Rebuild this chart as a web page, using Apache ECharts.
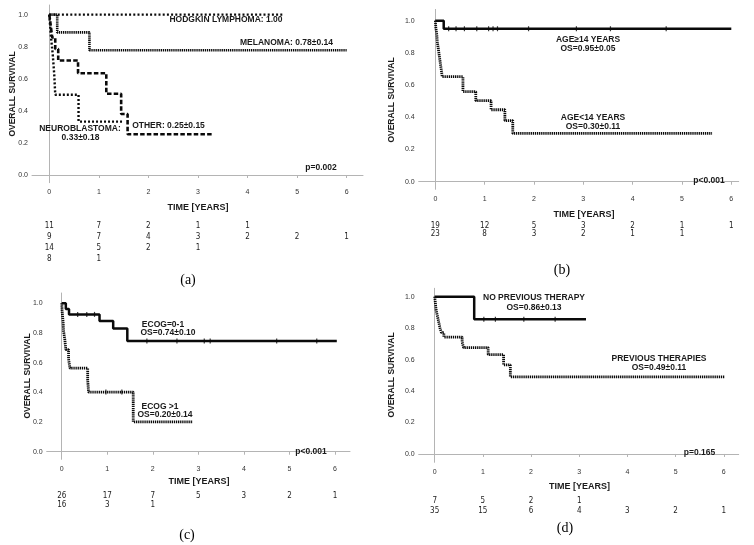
<!DOCTYPE html>
<html><head><meta charset="utf-8">
<script src="https://cdn.jsdelivr.net/npm/echarts@6/dist/echarts.min.js"></script>
<style>html,body{margin:0;padding:0;background:#fff}#c{width:754px;height:545px}</style>
</head><body><div id="c"></div>
<script>
// ---------- DATA ----------
const xTicks = [0, 1, 2, 3, 4, 5, 6];
const yTicks = [0, 0.2, 0.4, 0.6, 0.8, 1.0];

// Panel (a)
const aHodgkinT = [0, 4.71];
const aHodgkinS = [1, 1];
const aMelanomaT = [0, 0.16, 0.81, 6.0];
const aMelanomaS = [1, 0.889, 0.778, 0.778];
const aOtherT = [0, 0.03, 0.06, 0.12, 0.18, 0.58, 1.15, 1.45, 1.58, 3.28];
const aOtherS = [1, 0.929, 0.857, 0.786, 0.714, 0.634, 0.507, 0.38, 0.254, 0.254];
const aNeuroT = [0, 0.03, 0.07, 0.1, 0.12, 0.59, 1.5];
const aNeuroS = [1, 0.875, 0.75, 0.625, 0.5, 0.333, 0.333];
const aRisk = [[11, 7, 2, 1, 1], [9, 7, 4, 3, 2, 2, 1], [14, 5, 2, 1], [8, 1]];

// Panel (b)
const bOldT = [0, 0.17, 6.0];
const bOldS = [1, 0.95, 0.95];
const bOldCensor = [0.27, 0.42, 0.59, 0.84, 1.08, 1.17, 1.26, 1.89, 2.86, 3.55, 4.68];
const bYoungT = [0, 0.01, 0.03, 0.04, 0.06, 0.08, 0.1, 0.12, 0.14, 0.56, 0.82, 1.13, 1.41, 1.57, 5.61];
const bYoungS = [1, 0.957, 0.913, 0.870, 0.826, 0.783, 0.739, 0.696, 0.652, 0.559, 0.503, 0.447, 0.38, 0.30, 0.30];
const bRisk = [[19, 12, 5, 3, 2, 1, 1], [23, 8, 3, 2, 1, 1]];

// Panel (c)
const cLowT = [0, 0.09, 0.16, 0.83, 1.13, 1.44, 6.04];
const cLowS = [1, 0.962, 0.925, 0.88, 0.83, 0.745, 0.745];
const cLowCensor = [0.35, 0.55, 0.72, 1.87, 2.53, 3.13, 3.26, 4.72, 5.6];
const cHighT = [0, 0.01, 0.03, 0.04, 0.07, 0.09, 0.15, 0.18, 0.57, 0.59, 1.57, 2.88];
const cHighS = [1, 0.938, 0.875, 0.813, 0.75, 0.688, 0.625, 0.563, 0.482, 0.402, 0.201, 0.201];
const cHighCensor = [0.97, 1.32];
const cRisk = [[26, 17, 7, 5, 3, 2, 1], [16, 3, 1]];

// Panel (d)
const dNoPrevT = [0, 0.82, 3.14];
const dNoPrevS = [1, 0.857, 0.857];
const dNoPrevCensor = [1.02, 1.26, 1.85, 2.5];
const dPrevT = [0, 0.01, 0.02, 0.03, 0.05, 0.07, 0.09, 0.11, 0.14, 0.19, 0.57, 0.6, 1.11, 1.43, 1.57, 6.01];
const dPrevS = [1, 0.971, 0.943, 0.914, 0.886, 0.857, 0.829, 0.800, 0.771, 0.743, 0.71, 0.676, 0.632, 0.566, 0.49, 0.49];
const dRisk = [[7, 5, 2, 1], [35, 15, 6, 4, 3, 2, 1]];

// ---------- LAYOUT ----------
const panels = [
  {left: 32, top: 5, width: 331, height: 177.7, xMin: -0.349, xMax: 6.33, yMin: -0.048, yMax: 1.06,
   risk: aRisk, riskY: [226, 237.3, 248.3, 259.3], ytitle: [13, 94], xtitle: [198, 208], label: ['(a)', 188, 280]},
  {left: 418.7, top: 9.4, width: 320, height: 179.9, xMin: -0.337, xMax: 6.15, yMin: -0.047, yMax: 1.07,
   risk: bRisk, riskY: [225.7, 233.5], ytitle: [392, 100], xtitle: [584, 215], label: ['(b)', 562, 270]},
  {left: 46.7, top: 293, width: 303.3, height: 166.3, xMin: -0.33, xMax: 6.33, yMin: -0.051, yMax: 1.069,
   risk: cRisk, riskY: [496, 505.3], ytitle: [28, 376], xtitle: [199, 482], label: ['(c)', 187, 535]},
  {left: 418.7, top: 288.3, width: 320, height: 174, xMin: -0.332, xMax: 6.31, yMin: -0.053, yMax: 1.053,
   risk: dRisk, riskY: [500.7, 510.7], ytitle: [392, 375], xtitle: [579.5, 486.7], label: ['(d)', 565, 528]}
];

const INK = '#0a0a0a';
const AX = '#b4b4b4';
const BOLD = 'Liberation Sans, Arial, sans-serif';
const HATCH = [1.3, 0.8];

function pairs(T, S) { return T.map((t, i) => [t, S[i]]); }
function survAt(T, S, t) { let v = S[0]; for (let i = 0; i < T.length; i++) { if (T[i] <= t) v = S[i]; } return v; }

function km(grid, T, S, width, dash) {
  return {type: 'line', xAxisIndex: grid, yAxisIndex: grid, step: 'end', symbol: 'none', silent: true,
    data: pairs(T, S), lineStyle: {color: INK, width: width, type: dash, cap: 'butt'}, z: 3};
}
function censor(grid, T, S, C) {
  return {type: 'scatter', xAxisIndex: grid, yAxisIndex: grid, symbol: 'rect', symbolSize: [1.2, 5], silent: true,
    itemStyle: {color: INK}, data: C.map(t => [t, survAt(T, S, t)]), z: 4};
}

const grids = [], xAxes = [], yAxes = [];
panels.forEach((p, i) => {
  grids.push({left: p.left, top: p.top, width: p.width, height: p.height});
  xAxes.push({type: 'value', gridIndex: i, min: p.xMin, max: p.xMax,
    axisLine: {show: true, lineStyle: {color: AX, width: 1}},
    axisTick: {show: true, length: 3, lineStyle: {color: AX}, customValues: xTicks},
    axisLabel: {customValues: xTicks, fontSize: 7, color: '#333', margin: 6, fontFamily: BOLD},
    splitLine: {show: false}});
  yAxes.push({type: 'value', gridIndex: i, min: p.yMin, max: p.yMax,
    axisLine: {show: true, lineStyle: {color: AX, width: 1}},
    axisTick: {show: false, customValues: yTicks},
    axisLabel: {customValues: yTicks, fontSize: 7, color: '#333', margin: 4, fontFamily: BOLD,
      formatter: v => v.toFixed(1)},
    splitLine: {show: false}});
});

const series = [
  km(0, aMelanomaT, aMelanomaS, 2.6, HATCH),
  km(0, aHodgkinT, aHodgkinS, 2.2, [2, 2.2]),
  km(0, aOtherT, aOtherS, 2.6, [4.5, 2.2]),
  km(0, aNeuroT, aNeuroS, 2.4, [2, 2]),
  km(1, bYoungT, bYoungS, 2.8, HATCH),
  km(1, bOldT, bOldS, 2.5, 'solid'),
  censor(1, bOldT, bOldS, bOldCensor),
  km(2, cHighT, cHighS, 2.8, HATCH),
  km(2, cLowT, cLowS, 2.5, 'solid'),
  censor(2, cLowT, cLowS, cLowCensor),
  censor(2, cHighT, cHighS, cHighCensor),
  km(3, dPrevT, dPrevS, 2.8, HATCH),
  km(3, dNoPrevT, dNoPrevS, 2.5, 'solid'),
  censor(3, dNoPrevT, dNoPrevS, dNoPrevCensor)
];

const chart = echarts.init(document.getElementById('c'), null, {renderer: 'canvas'});
chart.setOption({animation: false, backgroundColor: '#fff', grid: grids, xAxis: xAxes, yAxis: yAxes, series: series});

// ---------- TEXT ----------
function txt(s, x, y, opts) {
  opts = opts || {};
  return {type: 'text', x: x, y: y, rotation: opts.rot || 0, silent: true, z: 10,
    style: {text: s, fill: opts.color || '#1a1a1a', font: opts.font || ('bold 8.5px ' + BOLD),
      align: opts.align || 'center', verticalAlign: 'middle'}};
}
const annotations = [
  ['HODGKIN LYMPHOMA: 1.00', 226, 20], ['MELANOMA: 0.78±0.14', 286.5, 43],
  ['OTHER: 0.25±0.15', 168.5, 126], ['NEUROBLASTOMA:', 80, 128.5], ['0.33±0.18', 80.5, 137.5],
  ['p=0.002', 321, 168],
  ['AGE≥14 YEARS', 588, 40], ['OS=0.95±0.05', 588, 48.5], ['AGE<14 YEARS', 593, 118], ['OS=0.30±0.11', 593, 127],
  ['p<0.001', 709, 181],
  ['ECOG=0-1', 163, 325], ['OS=0.74±0.10', 168, 332.5], ['ECOG >1', 160, 407], ['OS=0.20±0.14', 165, 414.5],
  ['p<0.001', 311, 452],
  ['NO PREVIOUS THERAPY', 534, 298], ['OS=0.86±0.13', 534, 307.7], ['PREVIOUS THERAPIES', 659, 359],
  ['OS=0.49±0.11', 659, 367.5], ['p=0.165', 699.5, 453]
];
const graphics = annotations.map(a => txt(a[0], a[1], a[2]));
panels.forEach((p, gi) => {
  graphics.push(txt('OVERALL SURVIVAL', p.ytitle[0], p.ytitle[1], {rot: Math.PI / 2, font: 'bold 8.5px ' + BOLD}));
  graphics.push(txt('TIME [YEARS]', p.xtitle[0], p.xtitle[1], {font: 'bold 9px ' + BOLD}));
  graphics.push(txt(p.label[0], p.label[1], p.label[2], {font: '14px Liberation Serif, DejaVu Serif, serif', color: '#000'}));
  p.risk.forEach((row, r) => {
    row.forEach((n, k) => {
      const px = chart.convertToPixel({gridIndex: gi}, [xTicks[k], 0])[0];
      graphics.push(txt(String(n), px, p.riskY[r], {font: '8px Liberation Sans Narrow, DejaVu Sans Condensed, Arial, sans-serif', color: '#222'}));
    });
  });
});
chart.setOption({graphic: graphics});
</script></body></html>
